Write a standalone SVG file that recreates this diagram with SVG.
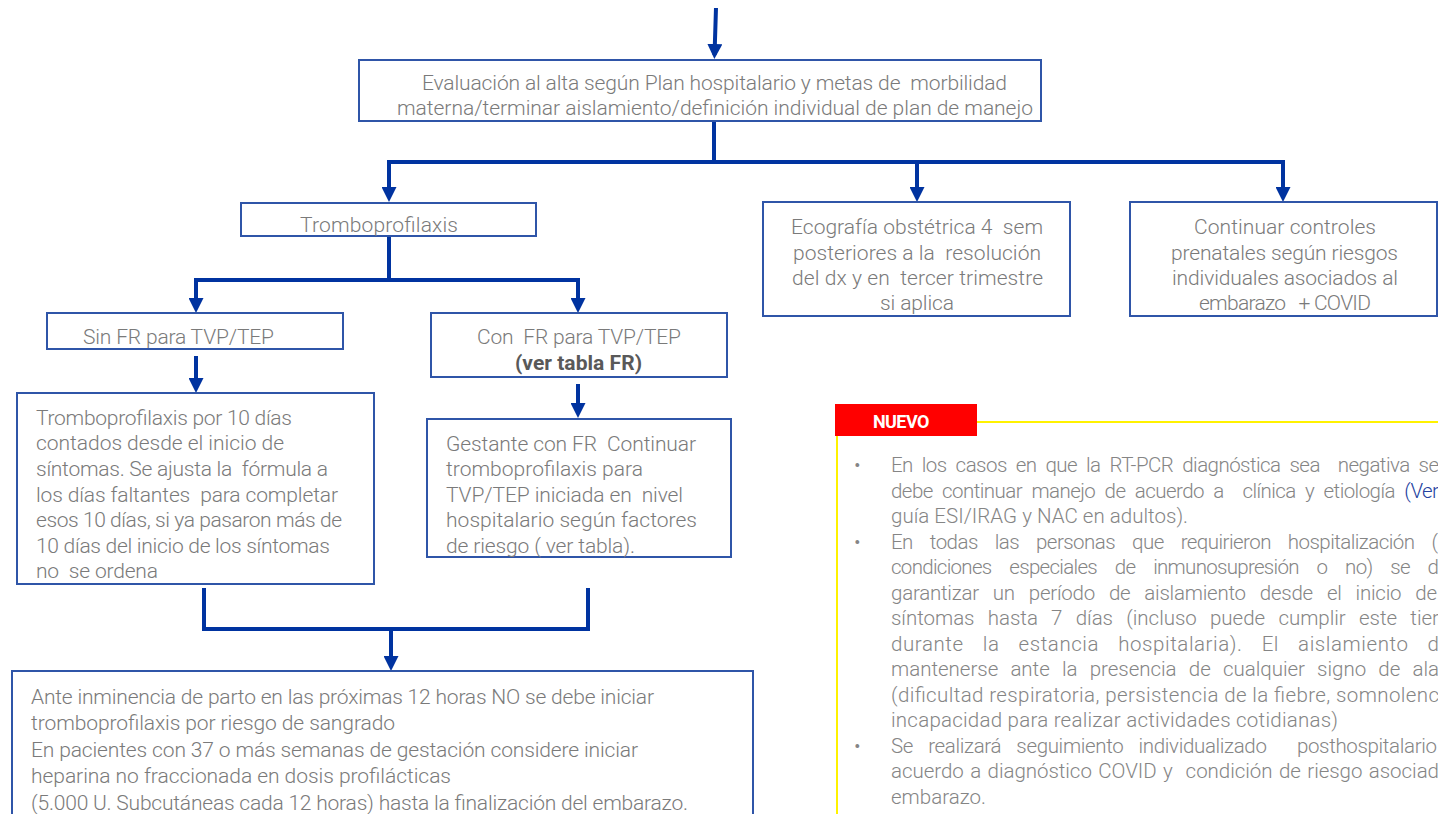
<svg xmlns="http://www.w3.org/2000/svg" width="1438" height="814" viewBox="0 0 1438 814">
<style>
  .box{fill:#fff;stroke:#2F55A8;stroke-width:2}
  .t{font-family:Roboto,"Liberation Sans",sans-serif;font-size:21px;fill:#7A7A7A;font-weight:300;white-space:pre}
  .c{text-anchor:middle}
  .b{font-weight:700;fill:#595959}
  .lk{fill:#2342A0}
  .con{fill:none;stroke:#0033A0;stroke-width:4;marker-end:url(#ah)}
  .conn{fill:none;stroke:#0033A0;stroke-width:4}
  .yl{fill:none;stroke:#FFF200;stroke-width:2}
  .bt{font-family:Roboto,"Liberation Sans",sans-serif;font-size:20.5px;fill:#858585;font-weight:300;white-space:pre}
</style>
<defs>
  <marker id="ah" markerUnits="userSpaceOnUse" markerWidth="15" markerHeight="15" refX="11" refY="7.5" orient="auto">
    <path d="M0,0 L15,7.5 L0,15 z" fill="#0033A0"/>
  </marker>
</defs>
<rect width="1438" height="814" fill="#fff"/>

<g id="connectors">
  <path class="con" d="M716,8 L714.5,55"/>
  <path class="con" d="M714,121 V162 H389 V198"/>
  <path class="con" d="M714,162 H917 V198"/>
  <path class="con" d="M917,162 H1283 V198"/>
  <path class="con" d="M389,236 V280 H196 V309"/>
  <path class="con" d="M389,280 H578 V309"/>
  <path class="con" d="M196,356 V389"/>
  <path class="con" d="M578,384 V414"/>
  <path class="conn" d="M204,588 V629 H588 V588"/>
  <path class="con" d="M391,629 V667"/>
</g>

<g id="evaluacion">
  <rect class="box" x="359" y="60" width="682" height="61"/>
  <text class="t c" x="714.5" y="90" textLength="585" lengthAdjust="spacing">Evaluación al alta según Plan hospitalario y metas de  morbilidad</text>
  <text class="t c" x="715" y="115" textLength="636" lengthAdjust="spacing">materna/terminar aislamiento/definición individual de plan de manejo</text>
</g>

<g id="tromboprofilaxis">
  <rect class="box" x="241" y="203" width="295" height="33"/>
  <text class="t c" x="379" y="232" textLength="158" lengthAdjust="spacing">Tromboprofilaxis</text>
</g>

<g id="ecografia">
  <rect class="box" x="763" y="202" width="307" height="114"/>
  <text class="t c" x="917" y="234" textLength="252" lengthAdjust="spacing">Ecografía obstétrica 4  sem</text>
  <text class="t c" x="917" y="260" textLength="248" lengthAdjust="spacing">posteriores a la  resolución</text>
  <text class="t c" x="917.5" y="285" textLength="251" lengthAdjust="spacing">del dx y en  tercer trimestre</text>
  <text class="t c" x="917" y="310" textLength="74" lengthAdjust="spacing">si aplica</text>
</g>

<g id="continuar">
  <rect class="box" x="1130" y="202" width="307" height="114"/>
  <text class="t c" x="1285" y="234" textLength="182" lengthAdjust="spacing">Continuar controles</text>
  <text class="t c" x="1284.5" y="260" textLength="227" lengthAdjust="spacing">prenatales según riesgos</text>
  <text class="t c" x="1285" y="285" textLength="226" lengthAdjust="spacing">individuales asociados al</text>
  <text class="t c" x="1285" y="310" textLength="172" lengthAdjust="spacing">embarazo   + COVID</text>
</g>

<g id="sin-fr">
  <rect class="box" x="47" y="313" width="296" height="36"/>
  <text class="t" x="83" y="344" textLength="191" lengthAdjust="spacing">Sin FR para TVP/TEP</text>
</g>

<g id="con-fr">
  <rect class="box" x="431" y="313" width="296" height="64"/>
  <text class="t c" x="579" y="344" textLength="204" lengthAdjust="spacing">Con  FR para TVP/TEP</text>
  <text class="t c b" x="578.5" y="370" textLength="127" lengthAdjust="spacing">(ver tabla FR)</text>
</g>

<g id="sin-fr-detalle">
  <rect class="box" x="17" y="393" width="357" height="191"/>
  <text class="t" x="36" y="425" textLength="256" lengthAdjust="spacing">Tromboprofilaxis por 10 días</text>
  <text class="t" x="36" y="450" textLength="248" lengthAdjust="spacing">contados desde el inicio de</text>
  <text class="t" x="36" y="476" textLength="292" lengthAdjust="spacing">síntomas. Se ajusta la  fórmula a</text>
  <text class="t" x="36" y="502" textLength="302" lengthAdjust="spacing">los días faltantes  para completar</text>
  <text class="t" x="36" y="527" textLength="306" lengthAdjust="spacing">esos 10 días, si ya pasaron más de</text>
  <text class="t" x="36" y="553" textLength="294" lengthAdjust="spacing">10 días del inicio de los síntomas</text>
  <text class="t" x="36" y="578" textLength="122" lengthAdjust="spacing">no  se ordena</text>
</g>

<g id="con-fr-detalle">
  <rect class="box" x="427" y="419" width="304" height="138"/>
  <text class="t" x="446" y="451" textLength="250" lengthAdjust="spacing">Gestante con FR  Continuar</text>
  <text class="t" x="446" y="476" textLength="197" lengthAdjust="spacing">tromboprofilaxis para</text>
  <text class="t" x="446" y="502" textLength="237" lengthAdjust="spacing">TVP/TEP iniciada en  nivel</text>
  <text class="t" x="446" y="527" textLength="251" lengthAdjust="spacing">hospitalario según factores</text>
  <text class="t" x="446" y="553" textLength="189" lengthAdjust="spacing">de riesgo ( ver tabla).</text>
</g>

<g id="parto">
  <rect class="box" x="12" y="671" width="741" height="160"/>
  <text class="t" x="31" y="704" textLength="623" lengthAdjust="spacing">Ante inminencia de parto en las próximas 12 horas NO se debe iniciar</text>
  <text class="t" x="31" y="730" textLength="364" lengthAdjust="spacing">tromboprofilaxis por riesgo de sangrado</text>
  <text class="t" x="31" y="757" textLength="607" lengthAdjust="spacing">En pacientes con 37 o más semanas de gestación considere iniciar</text>
  <text class="t" x="31" y="783" textLength="420" lengthAdjust="spacing">heparina no fraccionada en dosis profilácticas</text>
  <text class="t" x="31" y="810" textLength="657" lengthAdjust="spacing">(5.000 U. Subcutáneas cada 12 horas) hasta la finalización del embarazo.</text>
</g>

<g id="nuevo">
  <path class="yl" d="M977,422 H1438 M837,436 V814"/>
  <rect x="835" y="404" width="142" height="32" fill="#FF0000"/>
  <text x="873" y="428" font-family="Roboto,'Liberation Sans',sans-serif" font-size="18" font-weight="700" fill="#fff" letter-spacing="-0.6">NUEVO</text>
  <text class="bt" x="854" y="472">•</text>
  <text class="bt" x="854" y="548.5">•</text>
  <text class="bt" x="854" y="752.5">•</text>
  <text class="bt" x="891" y="472" word-spacing="4.5" textLength="548" lengthAdjust="spacing">En los casos en que la RT-PCR diagnóstica sea  negativa se</text>
  <text class="bt" x="891" y="497.5" word-spacing="4.9" textLength="548" lengthAdjust="spacing">debe continuar manejo de acuerdo a  clínica y etiología <tspan class="lk">(Ver</tspan></text>
  <text class="bt lk" x="891" y="523" textLength="297" lengthAdjust="spacing">guía ESI/IRAG y NAC en adultos).</text>
  <text class="bt" x="891" y="548.5" word-spacing="12.5" textLength="547" lengthAdjust="spacing">En todas las personas que requirieron hospitalización (</text>
  <text class="bt" x="891" y="574" word-spacing="13.5" textLength="548" lengthAdjust="spacing">condiciones especiales de inmunosupresión o no) se d</text>
  <text class="bt" x="891" y="599.5" word-spacing="9.2" textLength="546" lengthAdjust="spacing">garantizar un período de aislamiento desde el inicio de</text>
  <text class="bt" x="891" y="625" word-spacing="8.3" textLength="548" lengthAdjust="spacing">síntomas hasta 7 días (incluso puede cumplir este tier</text>
  <text class="bt" x="891" y="650.5" word-spacing="13.5" textLength="548" lengthAdjust="spacing">durante la estancia hospitalaria). El aislamiento d</text>
  <text class="bt" x="891" y="676" word-spacing="7.2" textLength="548" lengthAdjust="spacing">mantenerse ante la presencia de cualquier signo de ala</text>
  <text class="bt" x="891" y="701.5" textLength="548" lengthAdjust="spacing">(dificultad respiratoria, persistencia de la fiebre, somnolenc</text>
  <text class="bt" x="891" y="727" textLength="447" lengthAdjust="spacing">incapacidad para realizar actividades cotidianas)</text>
  <text class="bt" x="891" y="752.5" word-spacing="10.5" textLength="546" lengthAdjust="spacing">Se realizará seguimiento individualizado  posthospitalario</text>
  <text class="bt" x="891" y="778" word-spacing="1.5" textLength="548" lengthAdjust="spacing">acuerdo a diagnóstico COVID y  condición de riesgo asociad</text>
  <text class="bt" x="891" y="803.5" textLength="95" lengthAdjust="spacing">embarazo.</text>
</g>
</svg>
